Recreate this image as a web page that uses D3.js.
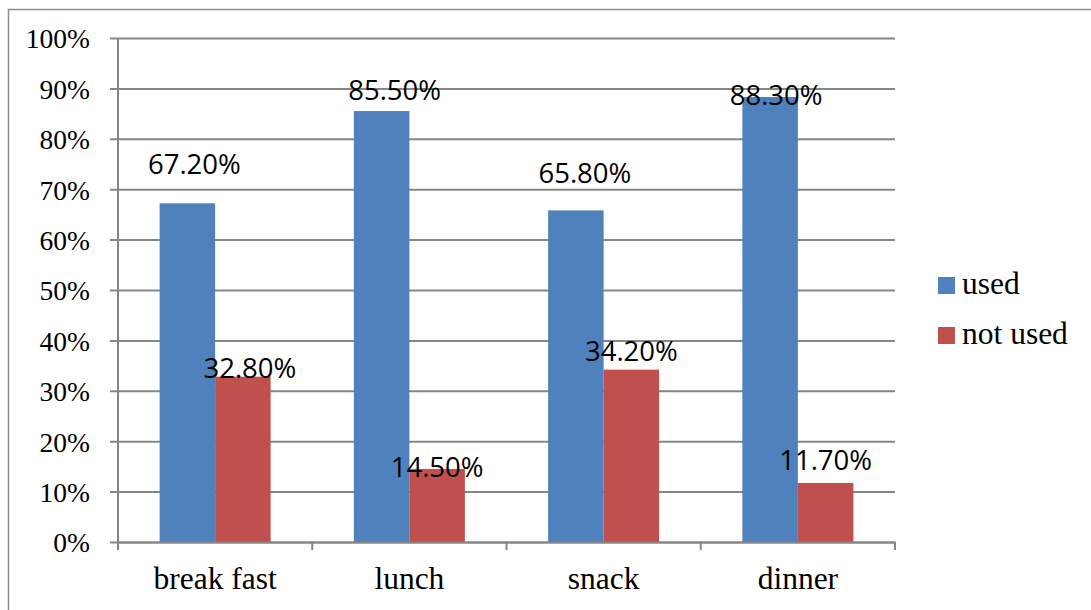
<!DOCTYPE html>
<html>
<head>
<meta charset="utf-8">
<script src="https://cdn.jsdelivr.net/npm/d3@7"></script>
<style>
  html, body { margin: 0; padding: 0; background: #fff; }
  svg { display: block; }
</style>
</head>
<body>
<svg id="chart" width="1091" height="610"></svg>
<script>
// Meal categories and the share of respondents for each
const categories = ["break fast", "lunch", "snack", "dinner"];
const seriesNames = ["used", "not used"];
const usedValues = [67.2, 85.5, 65.8, 88.3];
const notUsedValues = [32.8, 14.5, 34.2, 11.7];
const yTickValues = [0, 10, 20, 30, 40, 50, 60, 70, 80, 90, 100];

// Hand-placed nudges for the value labels (px): [dx, baseline offset from bar top]
const usedLabelNudge = [[7, -29], [13, -11], [9, -27], [6, 8]];
const notUsedLabelNudge = [[7, 1], [0, 8], [0, -9], [0, -13]];

const colors = { "used": "#4F81BD", "not used": "#C0504D" };
const gridColor = "#868686";

const svg = d3.select("#chart");

// Outer chart frame
svg.append("rect")
  .attr("x", 8.5).attr("y", 9.5)
  .attr("width", 1100).attr("height", 620)
  .attr("fill", "none").attr("stroke", "#8c8c8c").attr("stroke-width", 1.5);

const plot = { left: 118, right: 895, top: 38, bottom: 542 };

const x = d3.scaleBand().domain(categories).range([plot.left, plot.right]).padding(0);
const xs = d3.scaleBand().domain(seriesNames).range([0, x.bandwidth()])
  .paddingInner(0).paddingOuter(0.75);
const y = d3.scaleLinear().domain([0, 100]).range([plot.bottom, plot.top]);

// Horizontal gridlines with short ticks to the left of the axis
const yAxis = d3.axisLeft(y).tickValues(yTickValues)
  .tickSize(-(plot.right - plot.left)).tickSizeOuter(0)
  .tickFormat(d => d + "%").tickPadding(0);
const gy = svg.append("g").attr("transform", `translate(${plot.left},0)`).call(yAxis);
gy.select(".domain").remove();
gy.selectAll(".tick line")
  .attr("x1", -8)
  .attr("stroke", gridColor).attr("stroke-width", 2);
gy.selectAll(".tick text")
  .attr("x", -28).attr("dy", "0.36em")
  .attr("font-family", "'Liberation Serif', 'Times New Roman', serif")
  .attr("font-size", 27.5).attr("fill", "#000");

// Vertical axis line
svg.append("line")
  .attr("x1", plot.left).attr("x2", plot.left)
  .attr("y1", plot.top).attr("y2", plot.bottom)
  .attr("stroke", gridColor).attr("stroke-width", 2);

// Bars
const rows = categories.map((c, i) => ({
  cat: c,
  vals: [
    { s: "used", v: usedValues[i], nudge: usedLabelNudge[i] },
    { s: "not used", v: notUsedValues[i], nudge: notUsedLabelNudge[i] }
  ]
}));

const groups = svg.append("g").selectAll("g").data(rows).join("g")
  .attr("transform", d => `translate(${x(d.cat)},0)`);

groups.selectAll("rect").data(d => d.vals).join("rect")
  .attr("x", d => xs(d.s))
  .attr("width", xs.bandwidth())
  .attr("y", d => y(d.v))
  .attr("height", d => y(0) - y(d.v))
  .attr("fill", d => colors[d.s]);

// Category axis along the bottom
const xAxis = d3.axisBottom(x).tickSize(0).tickSizeOuter(0);
const gx = svg.append("g").attr("transform", `translate(0,${plot.bottom})`).call(xAxis);
gx.select(".domain").attr("stroke", gridColor).attr("stroke-width", 2);
gx.selectAll(".tick text")
  .attr("y", 47).attr("dy", 0)
  .attr("font-family", "'Liberation Serif', 'Times New Roman', serif")
  .attr("font-size", 31.5).attr("fill", "#000");

// Boundary ticks between categories
const bounds = categories.map(c => x(c)).concat([x(categories[categories.length - 1]) + x.bandwidth()]);
svg.append("g").selectAll("line").data(bounds).join("line")
  .attr("x1", d => d).attr("x2", d => d)
  .attr("y1", plot.bottom).attr("y2", plot.bottom + 8)
  .attr("stroke", gridColor).attr("stroke-width", 2);

// Value labels
groups.selectAll("text.val").data(d => d.vals).join("text")
  .attr("class", "val")
  .attr("x", d => xs(d.s) + xs.bandwidth() / 2 + d.nudge[0])
  .attr("y", d => y(d.v) + d.nudge[1])
  .attr("text-anchor", "middle")
  .attr("font-family", "'Open Sans', sans-serif")
  .attr("font-size", 27.5).attr("fill", "#000")
  .text(d => d.v.toFixed(2) + "%");

// Legend
const legend = svg.append("g").selectAll("g").data(seriesNames).join("g")
  .attr("transform", (d, i) => `translate(938,${277 + i * 50})`);
legend.append("rect").attr("width", 17).attr("height", 17).attr("fill", d => colors[d]);
legend.append("text")
  .attr("x", 24).attr("y", 17)
  .attr("font-family", "'Liberation Serif', 'Times New Roman', serif")
  .attr("font-size", 31.5).attr("fill", "#000")
  .text(d => d);
</script>
</body>
</html>
